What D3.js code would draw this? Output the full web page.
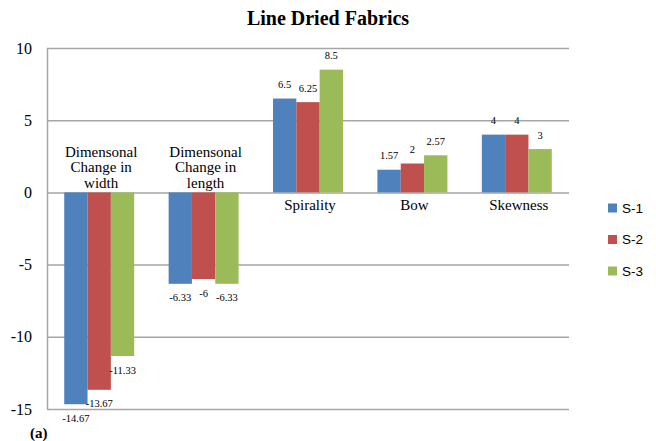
<!DOCTYPE html>
<html>
<head>
<meta charset="utf-8">
<script src="https://cdn.jsdelivr.net/npm/d3@7"></script>
<style>
  body { margin: 0; background: #fff; }
  svg { display: block; }
</style>
</head>
<body>
<div id="chart"></div>
<script>
// chart values
var categories = [
  ["Dimensonal", "Change in", "width"],
  ["Dimensonal", "Change in", "length"],
  ["Spirality"],
  ["Bow"],
  ["Skewness"]
];
var seriesNames = ["S-1", "S-2", "S-3"];
var s1 = [-14.67, -6.33, 6.5, 1.57, 4];
var s2 = [-13.67, -6, 6.25, 2, 4];
var s3 = [-11.33, -6.33, 8.5, 2.57, 3];
var labelsS1 = ["-14.67", "-6.33", "6.5", "1.57", "4"];
var labelsS2 = ["-13.67", "-6", "6.25", "2", "4"];
var labelsS3 = ["-11.33", "-6.33", "8.5", "2.57", "3"];
var yTicks = [-15, -10, -5, 0, 5, 10];
var colors = ["#4F81BD", "#C0504D", "#9BBB59"];

var serif = "'Liberation Serif', 'Times New Roman', serif";
var sans = "'Liberation Sans', Arial, sans-serif";

var svg = d3.select("#chart").append("svg")
    .attr("width", 656)
    .attr("height", 441),
    margin = {top: 48, right: 87, bottom: 32, left: 47},
    width = +svg.attr("width") - margin.left - margin.right,
    height = +svg.attr("height") - margin.top - margin.bottom;

var allSeries = [s1, s2, s3];
var allLabels = [labelsS1, labelsS2, labelsS3];

var x0 = d3.scaleBand()
    .domain(d3.range(categories.length))
    .range([0, width])
    .paddingInner(0.33)
    .paddingOuter(0.165);
var x1 = d3.scaleBand()
    .domain(d3.range(seriesNames.length))
    .range([0, x0.bandwidth()]);
var y = d3.scaleLinear().domain([-15, 10]).range([height, 0]);

var g = svg.append("g")
    .attr("transform", "translate(" + margin.left + "," + margin.top + ")");

// title
svg.append("text")
    .attr("x", 328)
    .attr("y", 25)
    .attr("text-anchor", "middle")
    .style("font-family", serif)
    .style("font-weight", "bold")
    .style("font-size", "20px")
    .text("Line Dried Fabrics");

// gridlines
g.append("g")
    .attr("class", "grid")
    .call(d3.axisLeft(y).tickValues(yTicks).tickSize(-width).tickFormat(""))
    .call(function(a) {
      a.select(".domain").remove();
      a.selectAll("line").attr("stroke", "#a6a6a6").attr("stroke-width", 1.5);
    });

// left axis line + labels (plain hyphen minus like the original)
g.append("g")
    .attr("class", "y axis")
    .call(d3.axisLeft(y).tickValues(yTicks).tickSize(0).tickPadding(15)
      .tickFormat(function(d) { return String(d); }))
    .call(function(a) {
      a.select(".domain").attr("stroke", "#a6a6a6").attr("stroke-width", 1.5);
      a.selectAll("text")
        .style("font-family", serif)
        .style("font-size", "16px")
        .attr("fill", "#000");
    });

// bars
var groups = g.selectAll(".grp")
    .data(categories)
  .enter().append("g")
    .attr("class", "grp")
    .attr("transform", function(d, i) { return "translate(" + x0(i) + ",0)"; });

groups.selectAll("rect")
    .data(function(d, i) { return allSeries.map(function(s, k) { return {k: k, v: s[i], lab: allLabels[k][i]}; }); })
  .enter().append("rect")
    .attr("x", function(d) { return x1(d.k); })
    .attr("width", x1.bandwidth())
    .attr("y", function(d) { return y(Math.max(0, d.v)); })
    .attr("height", function(d) { return Math.abs(y(d.v) - y(0)); })
    .attr("fill", function(d) { return colors[d.k]; });

groups.selectAll(".val")
    .data(function(d, i) { return allSeries.map(function(s, k) { return {k: k, v: s[i], lab: allLabels[k][i]}; }); })
  .enter().append("text")
    .attr("class", "val")
    .attr("x", function(d) { return x1(d.k) + x1.bandwidth() / 2; })
    .attr("y", function(d) { return d.v >= 0 ? y(d.v) - 10.5 : y(d.v) + 17.5; })
    .attr("text-anchor", "middle")
    .style("font-family", serif)
    .style("font-size", "10.5px")
    .text(function(d) { return d.lab; });

// category labels, on the opposite side of the bars
groups.each(function(lines, i) {
  var neg = s1[i] < 0;
  var t = d3.select(this).append("text")
      .attr("text-anchor", "middle")
      .style("font-family", serif)
      .style("font-size", "15px");
  lines.forEach(function(line, j) {
    var yy = neg ? y(0) - 4.5 - (lines.length - 1 - j) * 15.5 : y(0) + 17.5 + j * 15.5;
    t.append("tspan")
      .attr("x", x0.bandwidth() / 2 + 2)
      .attr("y", yy)
      .text(line);
  });
});

// legend
var legend = svg.append("g").attr("class", "legend");
seriesNames.forEach(function(name, k) {
  var ly = 208 + k * 31.5;
  legend.append("rect")
    .attr("x", 608)
    .attr("y", ly - 4.5)
    .attr("width", 9)
    .attr("height", 9)
    .attr("fill", colors[k]);
  legend.append("text")
    .attr("x", 622)
    .attr("y", ly)
    .attr("dy", "0.35em")
    .style("font-family", sans)
    .style("font-size", "13.5px")
    .text(name);
});

// panel label
svg.append("text")
    .attr("x", 30)
    .attr("y", 438)
    .style("font-family", serif)
    .style("font-weight", "bold")
    .style("font-size", "15px")
    .text("(a)");
</script>
</body>
</html>
